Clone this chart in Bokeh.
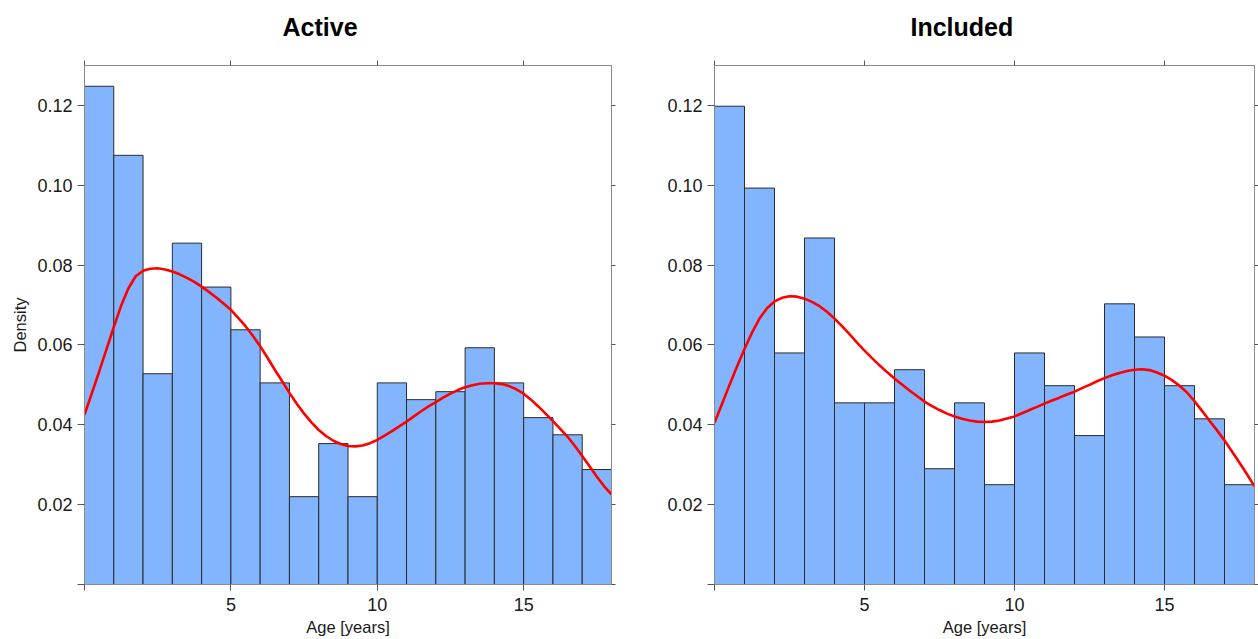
from bokeh.plotting import figure
from bokeh.layouts import row
from bokeh.models import LinearAxis, FixedTicker, Range1d
from bokeh.embed import file_html
from bokeh.resources import INLINE

# ---- data ----
panel_titles = ["Active", "Included"]
age_bins = list(range(0, 19))  # bin edges, years

active_density = [0.1248, 0.1075, 0.0528, 0.0855, 0.0745, 0.0638, 0.0505, 0.0220, 0.0353,
                  0.0220, 0.0505, 0.0463, 0.0483, 0.0593, 0.0505, 0.0418, 0.0375, 0.0288]
included_density = [0.1198, 0.0993, 0.0580, 0.0868, 0.0455, 0.0455, 0.0538, 0.0290, 0.0455,
                    0.0250, 0.0580, 0.0498, 0.0373, 0.0703, 0.0620, 0.0498, 0.0415, 0.0250]

curve_x = [i * 0.25 for i in range(73)]  # 0 .. 18 years
active_kde = [0.0425, 0.0479, 0.0533, 0.0589, 0.0645, 0.0698, 0.0742, 0.0772, 0.0786, 0.0791,
              0.0792, 0.0789, 0.0784, 0.0777, 0.0768, 0.0758, 0.0746, 0.0733, 0.0719, 0.0704,
              0.0688, 0.0668, 0.0647, 0.0623, 0.0597, 0.0568, 0.0538, 0.0509, 0.0480, 0.0453,
              0.0428, 0.0406, 0.0387, 0.0372, 0.0360, 0.0352, 0.0347, 0.0346, 0.0348, 0.0354,
              0.0362, 0.0373, 0.0384, 0.0396, 0.0408, 0.0421, 0.0434, 0.0446, 0.0457, 0.0468,
              0.0478, 0.0487, 0.0494, 0.0499, 0.0503, 0.0504, 0.0504, 0.0502, 0.0497, 0.0489,
              0.0478, 0.0463, 0.0446, 0.0428, 0.0409, 0.0390, 0.0370, 0.0347, 0.0322, 0.0296,
              0.0270, 0.0246, 0.0226]
included_kde = [0.0405, 0.0452, 0.0500, 0.0546, 0.0590, 0.0631, 0.0666, 0.0692, 0.0709, 0.0718,
                0.0722, 0.0721, 0.0716, 0.0708, 0.0697, 0.0683, 0.0666, 0.0647, 0.0627, 0.0606,
                0.0586, 0.0567, 0.0549, 0.0532, 0.0516, 0.0501, 0.0486, 0.0472, 0.0458, 0.0447,
                0.0437, 0.0428, 0.0421, 0.0415, 0.0411, 0.0408, 0.0407, 0.0408, 0.0411, 0.0416,
                0.0421, 0.0429, 0.0437, 0.0445, 0.0453, 0.0461, 0.0468, 0.0476, 0.0483, 0.0492,
                0.0500, 0.0509, 0.0517, 0.0524, 0.0530, 0.0535, 0.0538, 0.0539, 0.0537, 0.0531,
                0.0523, 0.0512, 0.0498, 0.0481, 0.0459, 0.0435, 0.0410, 0.0386, 0.0361, 0.0333,
                0.0305, 0.0276, 0.0246]

x_ticks = [0, 5, 10, 15]
y_ticks = [0.0, 0.02, 0.04, 0.06, 0.08, 0.10, 0.12]
y_tick_labels = {0.0: "", 0.02: "0.02", 0.04: "0.04", 0.06: "0.06", 0.08: "0.08", 0.1: "0.10", 0.12: "0.12"}
x_tick_labels = {0: "", 5: "5", 10: "10", 15: "15"}

FONT = "Liberation Sans"
BAR_FILL = "#82B5FD"
BAR_LINE = "#2b2b2b"
FRAME = "#8a8a8a"
TICK = "#555555"


def style_axis(ax):
    ax.axis_line_color = FRAME
    ax.major_tick_line_color = TICK
    ax.minor_tick_line_color = None
    ax.major_tick_in = 0
    ax.major_label_text_font = FONT
    ax.major_label_text_font_size = "18px"
    ax.major_label_text_color = "#1a1a1a"
    ax.axis_label_text_font = FONT
    ax.axis_label_text_font_size = "16.5px"
    ax.axis_label_text_font_style = "normal"
    ax.axis_label_text_color = "#1a1a1a"


def make_panel(title, density, kde, width, b_left, b_right, ylabel, title_offset):
    p = figure(width=width, height=639, x_range=Range1d(0, 18), y_range=Range1d(0, 0.130),
               output_backend="svg", toolbar_location=None, title=title,
               min_border_left=b_left, min_border_right=b_right,
               min_border_top=65, min_border_bottom=55)
    p.title.text_font = FONT
    p.title.text_font_size = "25px"
    p.title.text_font_style = "bold"
    p.title.text_color = "#000000"
    p.title.align = "left"
    p.title.offset = title_offset
    p.title.padding = dict(left=0, right=0, top=0, bottom=15)
    p.xgrid.grid_line_color = None
    p.ygrid.grid_line_color = None
    p.outline_line_color = FRAME
    p.outline_line_width = 1
    p.background_fill_color = "white"
    p.border_fill_color = "white"

    p.quad(left=age_bins[:-1], right=age_bins[1:], bottom=0, top=density,
           fill_color=BAR_FILL, line_color=BAR_LINE, line_width=1)
    p.line(curve_x, kde, line_color="#ff0000", line_width=2.6)

    xa = p.xaxis[0]
    xa.ticker = FixedTicker(ticks=x_ticks)
    xa.major_label_overrides = x_tick_labels
    xa.axis_label = "Age [years]"
    style_axis(xa)
    xa.major_tick_out = 6
    xa.major_label_standoff = 7
    xa.axis_label_standoff = 4

    ya = p.yaxis[0]
    ya.ticker = FixedTicker(ticks=y_ticks)
    ya.major_label_overrides = y_tick_labels
    ya.axis_label = ylabel
    style_axis(ya)
    ya.major_tick_out = 7
    ya.major_label_standoff = 5
    ya.axis_label_standoff = 5

    top = LinearAxis(ticker=FixedTicker(ticks=x_ticks))
    style_axis(top)
    top.major_tick_out = 5
    top.major_label_standoff = 0
    top.major_label_overrides = {t: "" for t in x_ticks}
    top.major_label_text_font_size = "1px"
    p.add_layout(top, "above")

    right = LinearAxis(ticker=FixedTicker(ticks=y_ticks))
    style_axis(right)
    right.major_tick_out = 4
    right.major_label_standoff = 0
    right.major_label_overrides = {t: "" for t in y_ticks}
    right.major_label_text_font_size = "1px"
    p.add_layout(right, "right")
    return p


p1 = make_panel(panel_titles[0], active_density, active_kde, 640, 84, 29, "Density", 198)
p2 = make_panel(panel_titles[1], included_density, included_kde, 618, 74, 4, None, 196)

layout = row(p1, p2, spacing=0)
open("out.html", "w").write(file_html(layout, INLINE))
